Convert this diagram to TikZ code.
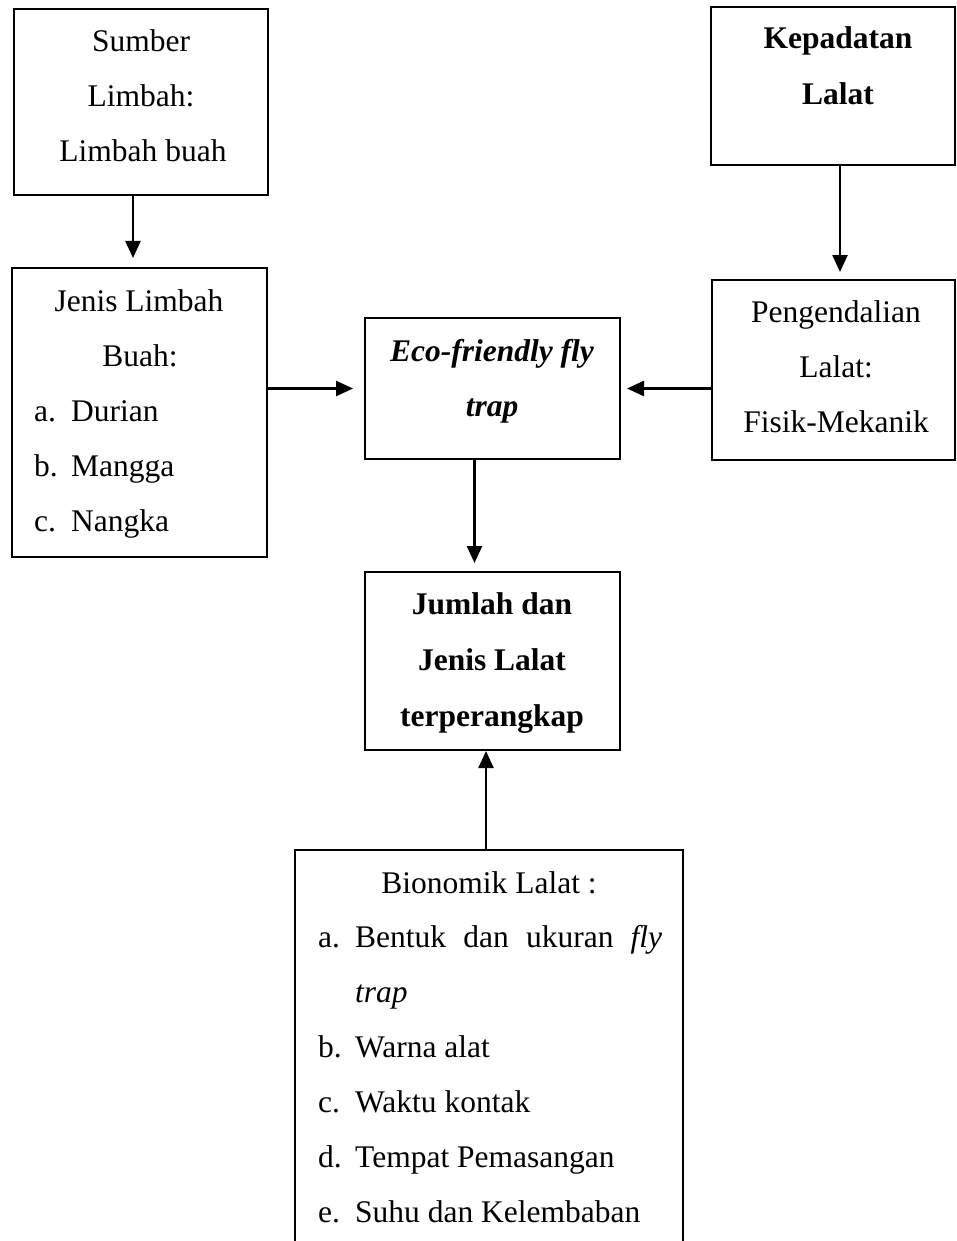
\documentclass[tikz,border=0pt]{standalone}
\usepackage{fontspec}
\setmainfont{Liberation Serif}
\usetikzlibrary{arrows.meta}
\begin{document}
\begin{tikzpicture}[x=1pt,y=-1pt,
 box/.style={draw, line width=2.5pt, inner sep=0pt, outer sep=0pt, anchor=north west},
 txt/.style={anchor=base, inner sep=0pt, font=\fontsize{31.5}{38}\selectfont},
 lft/.style={anchor=base west, inner sep=0pt, font=\fontsize{31.5}{38}\selectfont},
 arr/.style={line width=2.5pt, -{Triangle[length=17pt,width=15pt]}}]
\clip (0,0) rectangle (957,1241);
\fill[white] (0,0) rectangle (957,1241);
% boxes
\node[box, minimum width=254pt, minimum height=186pt] (sumber) at (14,9) {};
\node[box, minimum width=255pt, minimum height=289pt] (jenis) at (12,268) {};
\node[box, minimum width=255pt, minimum height=141pt] (eco) at (365,318) {};
\node[box, minimum width=244pt, minimum height=158pt] (kep) at (711,7) {};
\node[box, minimum width=243pt, minimum height=180pt] (peng) at (712,280) {};
\node[box, minimum width=255pt, minimum height=178pt] (jumlah) at (365,572) {};
\node[box, minimum width=388pt, minimum height=460pt] (bio) at (295,850) {};
% texts
\node[txt] (s1) at (141,52) {Sumber};
\node[txt] (s2) at (141,107) {Limbah:};
\node[txt] (s3) at (143,162) {Limbah buah};
\node[txt] (j1) at (139,311) {Jenis Limbah};
\node[txt] (j2) at (140,366) {Buah:};
\node[lft] (j3a) at (34,421) {a.};
\node[lft] (j3) at (71,421) {Durian};
\node[lft] (j4a) at (34,476) {b.};
\node[lft] (j4) at (71,476) {Mangga};
\node[lft] (j5a) at (34,531) {c.};
\node[lft] (j5) at (71,531) {Nangka};
\node[txt] (e1) at (492,361) {\textbf{\textit{Eco-friendly fly}}};
\node[txt] (e2) at (492,416) {\textbf{\textit{trap}}};
\node[txt] (k1) at (838,49) {\textbf{Kepadatan}};
\node[txt] (k2) at (838,105) {\textbf{Lalat}};
\node[txt] (p1) at (836,322) {Pengendalian};
\node[txt] (p2) at (836,377) {Lalat:};
\node[txt] (p3) at (836,432) {Fisik-Mekanik};
\node[txt] (m1) at (492,614) {\textbf{Jumlah dan}};
\node[txt] (m2) at (492,670) {\textbf{Jenis Lalat}};
\node[txt] (m3) at (492,726) {\textbf{terperangkap}};
\node[txt] (b0) at (489,893) {Bionomik Lalat :};
\node[lft] (b1a) at (318,947) {a.};
\node[lft] (b1) at (355,947) {\makebox[307pt][s]{Bentuk dan ukuran \textit{fly}}};
\node[lft] (b2) at (355,1002) {\textit{trap}};
\node[lft] (b3a) at (318,1057) {b.};
\node[lft] (b3) at (355,1057) {Warna alat};
\node[lft] (b4a) at (318,1112) {c.};
\node[lft] (b4) at (355,1112) {Waktu kontak};
\node[lft] (b5a) at (318,1167) {d.};
\node[lft] (b5) at (355,1167) {Tempat Pemasangan};
\node[lft] (b6a) at (318,1222) {e.};
\node[lft] (b6) at (355,1222) {Suhu dan Kelembaban};
% connectors
\draw[arr, shorten >=10pt] ([xshift=-8pt]sumber.south) -- ([xshift=-8pt]sumber.south |- jenis.north);
\draw[arr, shorten >=12pt] (jenis.east |- eco.west) -- (eco.west);
\draw[arr, shorten >=7pt] (peng.west |- eco.east) -- (eco.east);
\draw[arr, shorten >=8pt] ([xshift=7pt]kep.south) -- ([xshift=7pt]kep.south |- peng.north);
\draw[arr, shorten >=9pt] ([xshift=-18pt]eco.south) -- ([xshift=-18pt]eco.south |- jumlah.north);
\draw[arr, shorten >=1pt] ([xshift=-3pt]bio.north) -- ([xshift=-3pt]bio.north |- jumlah.south);
\end{tikzpicture}
\end{document}
